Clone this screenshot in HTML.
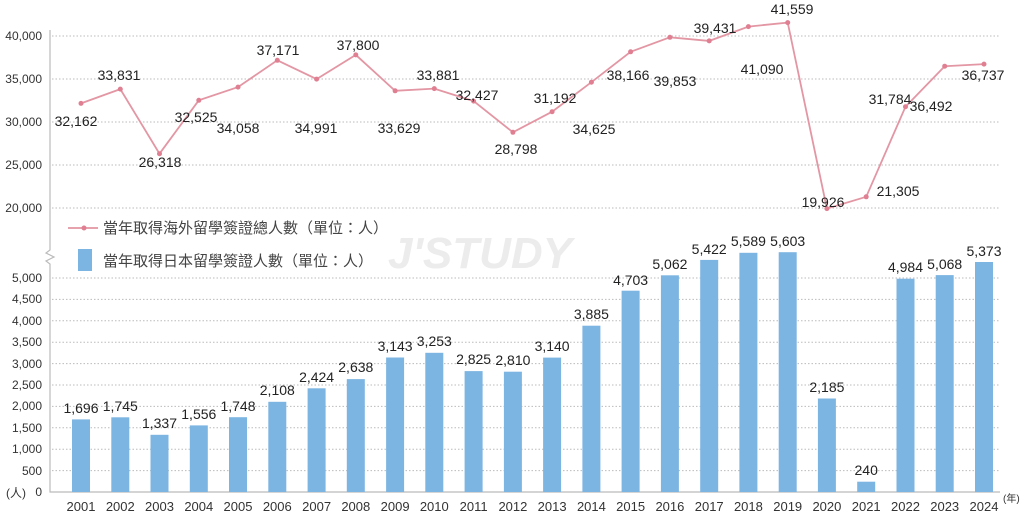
<!DOCTYPE html>
<html><head><meta charset="utf-8"><style>
body{margin:0;background:#fff;}
svg{display:block;font-family:"Liberation Sans","Noto Sans CJK TC",sans-serif;}
</style></head><body>
<svg width="1024" height="516" viewBox="0 0 1024 516">
<g stroke="#bbb" stroke-width="1" stroke-dasharray="1.5,2">
<line x1="52" x2="1000" y1="36" y2="36"/><line x1="52" x2="1000" y1="79" y2="79"/><line x1="52" x2="1000" y1="122" y2="122"/><line x1="52" x2="1000" y1="165" y2="165"/><line x1="52" x2="1000" y1="208" y2="208"/>
<line x1="52" x2="1000" y1="278" y2="278"/><line x1="52" x2="1000" y1="299.4" y2="299.4"/><line x1="52" x2="1000" y1="320.8" y2="320.8"/><line x1="52" x2="1000" y1="342.2" y2="342.2"/><line x1="52" x2="1000" y1="363.6" y2="363.6"/><line x1="52" x2="1000" y1="385" y2="385"/><line x1="52" x2="1000" y1="406.4" y2="406.4"/><line x1="52" x2="1000" y1="427.8" y2="427.8"/><line x1="52" x2="1000" y1="449.2" y2="449.2"/><line x1="52" x2="1000" y1="470.6" y2="470.6"/>
</g>
<path d="M50 30 V250 l-4 3 l8 4 l-8 4 l4 3 V492 H1000" fill="none" stroke="#bbb" stroke-width="1.2"/>
<g font-size="12" fill="#333" text-anchor="end">
<text x="42" y="40">40,000</text><text x="42" y="83">35,000</text><text x="42" y="126">30,000</text><text x="42" y="169">25,000</text><text x="42" y="212">20,000</text>
<text x="42" y="282">5,000</text><text x="42" y="303">4,500</text><text x="42" y="325">4,000</text><text x="42" y="346">3,500</text><text x="42" y="368">3,000</text><text x="42" y="389">2,500</text><text x="42" y="410">2,000</text><text x="42" y="432">1,500</text><text x="42" y="453">1,000</text><text x="42" y="475">500</text><text x="42" y="496">0</text>
</g>
<text x="6" y="497" font-size="12" fill="#333">(人)</text>
<text x="1003" y="502" font-size="10" fill="#333">(年)</text>
<text x="480" y="268" font-size="44" font-weight="bold" fill="#ececec" text-anchor="middle" font-style="italic">J'STUDY</text>
<g fill="#7db5e2">
<rect x="72" y="419.4" width="18" height="72.6"/><rect x="111.3" y="417.3" width="18" height="74.7"/><rect x="150.5" y="434.8" width="18" height="57.2"/><rect x="189.8" y="425.4" width="18" height="66.6"/><rect x="229" y="417.2" width="18" height="74.8"/><rect x="268.3" y="401.8" width="18" height="90.2"/><rect x="307.6" y="388.3" width="18" height="103.7"/><rect x="346.8" y="379.1" width="18" height="112.9"/><rect x="386.1" y="357.5" width="18" height="134.5"/><rect x="425.3" y="352.8" width="18" height="139.2"/><rect x="464.6" y="371.1" width="18" height="120.9"/><rect x="503.9" y="371.7" width="18" height="120.3"/><rect x="543.1" y="357.6" width="18" height="134.4"/><rect x="582.4" y="325.7" width="18" height="166.3"/><rect x="621.6" y="290.7" width="18" height="201.3"/><rect x="660.9" y="275.3" width="18" height="216.7"/><rect x="700.2" y="259.9" width="18" height="232.1"/><rect x="739.4" y="252.8" width="18" height="239.2"/><rect x="778.7" y="252.2" width="18" height="239.8"/><rect x="817.9" y="398.5" width="18" height="93.5"/><rect x="857.2" y="481.7" width="18" height="10.3"/><rect x="896.5" y="278.7" width="18" height="213.3"/><rect x="935.7" y="275.1" width="18" height="216.9"/><rect x="975" y="262" width="18" height="230"/>
</g>
<g font-size="14" fill="#222" text-anchor="middle">
<text x="81" y="413">1,696</text><text x="120.3" y="411">1,745</text><text x="159.5" y="428">1,337</text><text x="198.8" y="419">1,556</text><text x="238" y="411">1,748</text><text x="277.3" y="395">2,108</text><text x="316.6" y="382">2,424</text><text x="355.8" y="372">2,638</text><text x="395.1" y="351">3,143</text><text x="434.3" y="346">3,253</text><text x="473.6" y="364">2,825</text><text x="512.9" y="365">2,810</text><text x="552.1" y="351">3,140</text><text x="591.4" y="319">3,885</text><text x="630.6" y="285">4,703</text><text x="669.9" y="269">5,062</text><text x="709.2" y="254">5,422</text><text x="748.4" y="246">5,589</text><text x="787.7" y="246">5,603</text><text x="826.9" y="392">2,185</text><text x="866.2" y="475">240</text><text x="905.5" y="272">4,984</text><text x="944.7" y="269">5,068</text><text x="984" y="256">5,373</text>
</g>
<g font-size="13" fill="#333" text-anchor="middle">
<text x="81" y="511">2001</text><text x="120.3" y="511">2002</text><text x="159.5" y="511">2003</text><text x="198.8" y="511">2004</text><text x="238" y="511">2005</text><text x="277.3" y="511">2006</text><text x="316.6" y="511">2007</text><text x="355.8" y="511">2008</text><text x="395.1" y="511">2009</text><text x="434.3" y="511">2010</text><text x="473.6" y="511">2011</text><text x="512.9" y="511">2012</text><text x="552.1" y="511">2013</text><text x="591.4" y="511">2014</text><text x="630.6" y="511">2015</text><text x="669.9" y="511">2016</text><text x="709.2" y="511">2017</text><text x="748.4" y="511">2018</text><text x="787.7" y="511">2019</text><text x="826.9" y="511">2020</text><text x="866.2" y="511">2021</text><text x="905.5" y="511">2022</text><text x="944.7" y="511">2023</text><text x="984" y="511">2024</text>
</g>
<polyline fill="none" stroke="#e396a3" stroke-width="1.8" points="81,103.4 120.3,89.1 159.5,153.7 198.8,100.3 238,87.1 277.3,60.3 316.6,79.1 355.8,54.9 395.1,90.8 434.3,88.6 473.6,101.1 512.9,132.3 552.1,111.7 591.4,82.2 630.6,51.8 669.9,37.3 709.2,40.9 748.4,26.6 787.7,22.6 826.9,208.6 866.2,196.8 905.5,106.7 944.7,66.2 984,64.1"/>
<g fill="#e07f92">
<circle cx="81" cy="103.4" r="2.5"/><circle cx="120.3" cy="89.1" r="2.5"/><circle cx="159.5" cy="153.7" r="2.5"/><circle cx="198.8" cy="100.3" r="2.5"/><circle cx="238" cy="87.1" r="2.5"/><circle cx="277.3" cy="60.3" r="2.5"/><circle cx="316.6" cy="79.1" r="2.5"/><circle cx="355.8" cy="54.9" r="2.5"/><circle cx="395.1" cy="90.8" r="2.5"/><circle cx="434.3" cy="88.6" r="2.5"/><circle cx="473.6" cy="101.1" r="2.5"/><circle cx="512.9" cy="132.3" r="2.5"/><circle cx="552.1" cy="111.7" r="2.5"/><circle cx="591.4" cy="82.2" r="2.5"/><circle cx="630.6" cy="51.8" r="2.5"/><circle cx="669.9" cy="37.3" r="2.5"/><circle cx="709.2" cy="40.9" r="2.5"/><circle cx="748.4" cy="26.6" r="2.5"/><circle cx="787.7" cy="22.6" r="2.5"/><circle cx="826.9" cy="208.6" r="2.5"/><circle cx="866.2" cy="196.8" r="2.5"/><circle cx="905.5" cy="106.7" r="2.5"/><circle cx="944.7" cy="66.2" r="2.5"/><circle cx="984" cy="64.1" r="2.5"/>
</g>
<g font-size="14" fill="#222" text-anchor="middle">
<text x="76" y="126">32,162</text><text x="119" y="80">33,831</text><text x="160" y="167">26,318</text><text x="196" y="122">32,525</text><text x="238" y="133">34,058</text><text x="278" y="55">37,171</text><text x="316" y="133">34,991</text><text x="358" y="50">37,800</text><text x="399" y="133">33,629</text><text x="438" y="80">33,881</text><text x="477" y="100">32,427</text><text x="516" y="154">28,798</text><text x="555" y="103">31,192</text><text x="594" y="134">34,625</text><text x="628" y="80">38,166</text><text x="675" y="86">39,853</text><text x="715" y="33">39,431</text><text x="762" y="74">41,090</text><text x="792" y="14">41,559</text><text x="823" y="207">19,926</text><text x="898" y="196">21,305</text><text x="890" y="104">31,784</text><text x="931" y="111">36,492</text><text x="983" y="80">36,737</text>
</g>
<line x1="68" x2="98" y1="228" y2="228" stroke="#e396a3" stroke-width="1.8"/><circle cx="84" cy="228" r="2.5" fill="#e07f92"/>
<text x="103" y="233" font-size="15" fill="#444">當年取得海外留學簽證總人數（單位：人）</text>
<rect x="78" y="249" width="14" height="22" fill="#7db5e2"/>
<text x="103" y="266" font-size="15" fill="#444">當年取得日本留學簽證人數（單位：人）</text>
</svg>
</body></html>
